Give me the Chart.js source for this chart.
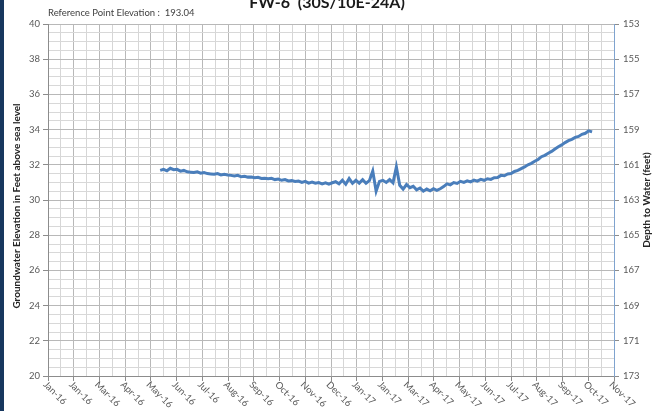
<!DOCTYPE html>
<html>
<head>
<meta charset="utf-8">
<script src="https://cdn.jsdelivr.net/npm/chart.js@4.4.1/dist/chart.umd.min.js"></script>
<style>
  html, body { margin: 0; padding: 0; background: #fff; }
  #wrap { width: 654px; height: 411px; position: relative; }
</style>
</head>
<body>
<div id="wrap"><canvas id="wellChart" width="654" height="411"></canvas></div>
<script>
    const chartTitle = 'FW-6  (30S/10E-24A)';
    const refNote = 'Reference Point Elevation :  193.04';
    const leftTitle = 'Groundwater Elevation in Feet above sea level';
    const rightTitle = 'Depth to Water (feet)';

    // x axis labels, one every 30.5 days starting 1 Jan 2016 (Excel date axis)
    const monthLabels = ['Jan-16', 'Jan-16', 'Mar-16', 'Apr-16', 'May-16', 'Jun-16', 'Jul-16', 'Aug-16',
        'Sep-16', 'Oct-16', 'Nov-16', 'Dec-16', 'Jan-17', 'Jan-17', 'Mar-17', 'Apr-17', 'May-17',
        'Jun-17', 'Jul-17', 'Aug-17', 'Sep-17', 'Oct-17', 'Nov-17'];
    const labelStepDays = 30.5;

    // water level readings
    const dates = [
        '2016-05-13', '2016-05-17', '2016-05-21', '2016-05-25', '2016-05-29',
        '2016-06-02', '2016-06-06', '2016-06-10', '2016-06-14', '2016-06-18', '2016-06-22', '2016-06-26', '2016-06-30',
        '2016-07-04', '2016-07-08', '2016-07-12', '2016-07-16', '2016-07-20', '2016-07-24', '2016-07-28',
        '2016-08-01', '2016-08-05', '2016-08-09', '2016-08-13', '2016-08-17', '2016-08-21', '2016-08-25', '2016-08-29',
        '2016-09-02', '2016-09-06', '2016-09-10', '2016-09-14', '2016-09-18', '2016-09-22', '2016-09-26', '2016-09-30',
        '2016-10-04', '2016-10-08', '2016-10-12', '2016-10-16', '2016-10-20', '2016-10-24', '2016-10-28',
        '2016-11-01', '2016-11-05', '2016-11-09', '2016-11-13', '2016-11-17', '2016-11-21', '2016-11-25', '2016-11-29',
        '2016-12-03', '2016-12-07', '2016-12-11', '2016-12-15', '2016-12-19', '2016-12-23', '2016-12-27', '2016-12-31',
        '2017-01-04', '2017-01-08', '2017-01-12', '2017-01-16', '2017-01-20', '2017-01-24', '2017-01-28',
        '2017-02-01', '2017-02-05', '2017-02-09', '2017-02-13', '2017-02-17', '2017-02-21', '2017-02-25',
        '2017-03-01', '2017-03-05', '2017-03-09', '2017-03-13', '2017-03-17', '2017-03-21', '2017-03-25', '2017-03-29',
        '2017-04-02', '2017-04-06', '2017-04-10', '2017-04-14', '2017-04-18', '2017-04-22', '2017-04-26', '2017-04-30',
        '2017-05-04', '2017-05-08', '2017-05-12', '2017-05-16', '2017-05-20', '2017-05-24', '2017-05-28',
        '2017-06-01', '2017-06-05', '2017-06-09', '2017-06-13', '2017-06-17', '2017-06-21', '2017-06-25', '2017-06-29',
        '2017-07-03', '2017-07-07', '2017-07-11', '2017-07-15', '2017-07-19', '2017-07-23', '2017-07-27', '2017-07-31',
        '2017-08-04', '2017-08-08', '2017-08-12', '2017-08-16', '2017-08-20', '2017-08-24', '2017-08-28',
        '2017-09-01', '2017-09-05', '2017-09-09', '2017-09-13', '2017-09-17', '2017-09-21', '2017-09-25', '2017-09-29',
        '2017-10-03', '2017-10-07'
    ];
    const elevation = [
        31.68, 31.74, 31.66, 31.80, 31.72,
        31.74, 31.64, 31.68, 31.60, 31.58, 31.56, 31.60, 31.52,
        31.56, 31.50, 31.48, 31.46, 31.50, 31.42, 31.46,
        31.42, 31.40, 31.36, 31.40, 31.32, 31.35, 31.30, 31.31,
        31.26, 31.29, 31.22, 31.24, 31.21, 31.23, 31.16, 31.19,
        31.12, 31.16, 31.08, 31.10, 31.05, 31.08, 31.00,
        31.06, 30.96, 31.02, 30.95, 30.99, 30.92, 30.98, 30.90,
        30.98, 31.04, 30.92, 31.12, 30.90, 31.22, 30.95, 31.12,
        30.96, 31.15, 30.95, 31.10, 31.65, 30.50, 31.06,
        31.12, 31.00, 31.16, 30.98, 31.88, 30.84, 30.62,
        30.88, 30.70, 30.78, 30.58, 30.68, 30.50, 30.62, 30.52,
        30.64, 30.55, 30.64, 30.76, 30.92, 30.86, 30.99, 30.94,
        31.06, 31.00, 31.09, 31.03, 31.13, 31.07, 31.17,
        31.12, 31.21, 31.17, 31.27, 31.28, 31.40, 31.38, 31.48,
        31.50, 31.62, 31.68, 31.78, 31.88, 32.00, 32.08, 32.20,
        32.30, 32.46, 32.54, 32.66, 32.76, 32.90, 33.03,
        33.13, 33.26, 33.37, 33.45, 33.56, 33.61, 33.73, 33.79,
        33.93, 33.87
    ];

    const fontFamily = 'Lato, "Open Sans", sans-serif';
    const axisStart = Date.UTC(2016, 0, 1);

    // days since 1 Jan 2016
    function dayOffset(dateStr) {
        const parts = dateStr.split('-').map(Number);
        return (Date.UTC(parts[0], parts[1] - 1, parts[2]) - axisStart) / 86400000;
    }

    const points = dates.map((d, i) => ({ x: dayOffset(d), y: elevation[i] }));

    // titles, side strip and slanted date labels
    const decorations = {
        id: 'decorations',
        beforeDraw(chart) {
            const ctx = chart.ctx;
            ctx.save();
            ctx.fillStyle = '#ffffff';
            ctx.fillRect(0, 0, chart.width, chart.height);
            ctx.fillStyle = '#17375e';
            ctx.fillRect(0, 0, 4, chart.height);
            ctx.restore();
        },
        afterDraw(chart) {
            const ctx = chart.ctx;
            const area = chart.chartArea;
            const xScale = chart.scales.x;
            ctx.save();

            // chart title, clipped at the top of the frame
            ctx.fillStyle = '#1a1a1a';
            ctx.font = 'bold 16px ' + fontFamily;
            ctx.textAlign = 'center';
            ctx.textBaseline = 'alphabetic';
            ctx.fillText(chartTitle, 327, 8);

            ctx.fillStyle = '#404040';
            ctx.font = '9.5px ' + fontFamily;
            ctx.textAlign = 'left';
            ctx.textBaseline = 'middle';
            ctx.fillText(refNote, 48, 13);

            // axis titles, both reading bottom to top
            ctx.fillStyle = '#262626';
            ctx.font = 'bold 10px ' + fontFamily;
            ctx.textAlign = 'center';
            const midY = (area.top + area.bottom) / 2;
            ctx.save();
            ctx.translate(17, midY + 6);
            ctx.rotate(-Math.PI / 2);
            ctx.fillText(leftTitle, 0, 0);
            ctx.restore();
            ctx.save();
            ctx.translate(647, midY);
            ctx.rotate(-Math.PI / 2);
            ctx.fillText(rightTitle, 0, 0);
            ctx.restore();

            // slanted month labels under the x axis
            ctx.fillStyle = '#595959';
            ctx.font = '9.5px ' + fontFamily;
            ctx.textAlign = 'left';
            monthLabels.forEach((label, i) => {
                const px = xScale.getPixelForValue(i * labelStepDays);
                ctx.save();
                ctx.translate(px - 3, area.bottom + 7);
                ctx.rotate(Math.PI / 4);
                ctx.fillText(label, 0, 0);
                ctx.restore();
            });
            ctx.restore();
        }
    };

    const ctx = document.getElementById('wellChart').getContext('2d');
    const wellChart = new Chart(ctx, {
        type: 'line',
        data: {
            datasets: [{
                label: 'Groundwater Elevation',
                data: points,
                borderColor: '#4a7ebb',
                backgroundColor: '#4a7ebb',
                borderWidth: 3,
                pointRadius: 0,
                tension: 0,
                yAxisID: 'y'
            }]
        },
        options: {
            responsive: false,
            animation: false,
            devicePixelRatio: 1,
            layout: { padding: { top: 24, left: 0, right: 0, bottom: 0 } },
            plugins: {
                legend: { display: false },
                tooltip: { enabled: false }
            },
            scales: {
                x: {
                    type: 'linear',
                    min: 0,
                    max: labelStepDays * (monthLabels.length - 1),
                    afterBuildTicks: (scale) => {
                        // half-month gridlines, every second one carries a label
                        const ticks = [];
                        for (let i = 0; i <= (monthLabels.length - 1) * 2; i++) {
                            ticks.push({ value: i * labelStepDays / 2 });
                        }
                        scale.ticks = ticks;
                    },
                    ticks: { display: false },
                    grid: {
                        color: (c) => c.index % 2 === 0 ? '#b8b8b8' : '#d6d6d6',
                        tickColor: (c) => c.index % 2 === 0 ? '#8c8c8c' : 'rgba(0,0,0,0)',
                        tickLength: 5
                    },
                    border: { color: '#8c8c8c' },
                    afterFit: (scale) => { scale.height = 35; }
                },
                y: {
                    position: 'left',
                    min: 20,
                    max: 40,
                    afterBuildTicks: (scale) => {
                        const ticks = [];
                        for (let v = 20; v <= 40; v += 0.5) ticks.push({ value: v });
                        scale.ticks = ticks;
                    },
                    ticks: {
                        autoSkip: false,
                        color: '#595959',
                        font: { family: fontFamily, size: 9.5 },
                        padding: 3,
                        callback: (v) => (v % 2 === 0 ? v : '')
                    },
                    grid: {
                        color: (c) => c.tick && c.tick.value % 2 === 0 ? '#b8b8b8' : '#d8d8d8',
                        tickColor: (c) => c.tick && c.tick.value % 2 === 0 ? '#8c8c8c' : 'rgba(0,0,0,0)',
                        tickLength: 5
                    },
                    border: { color: '#8c8c8c' },
                    afterFit: (scale) => { scale.width = 48; }
                },
                y2: {
                    position: 'right',
                    reverse: true,
                    min: 153,
                    max: 173,
                    ticks: {
                        stepSize: 2,
                        color: '#595959',
                        font: { family: fontFamily, size: 9.5 },
                        padding: 4
                    },
                    grid: {
                        drawOnChartArea: false,
                        tickColor: '#8c8c8c',
                        tickLength: 5
                    },
                    border: { color: '#7fa3cf' },
                    afterFit: (scale) => { scale.width = 40; }
                }
            }
        },
        plugins: [decorations]
    });
</script>
</body>
</html>
